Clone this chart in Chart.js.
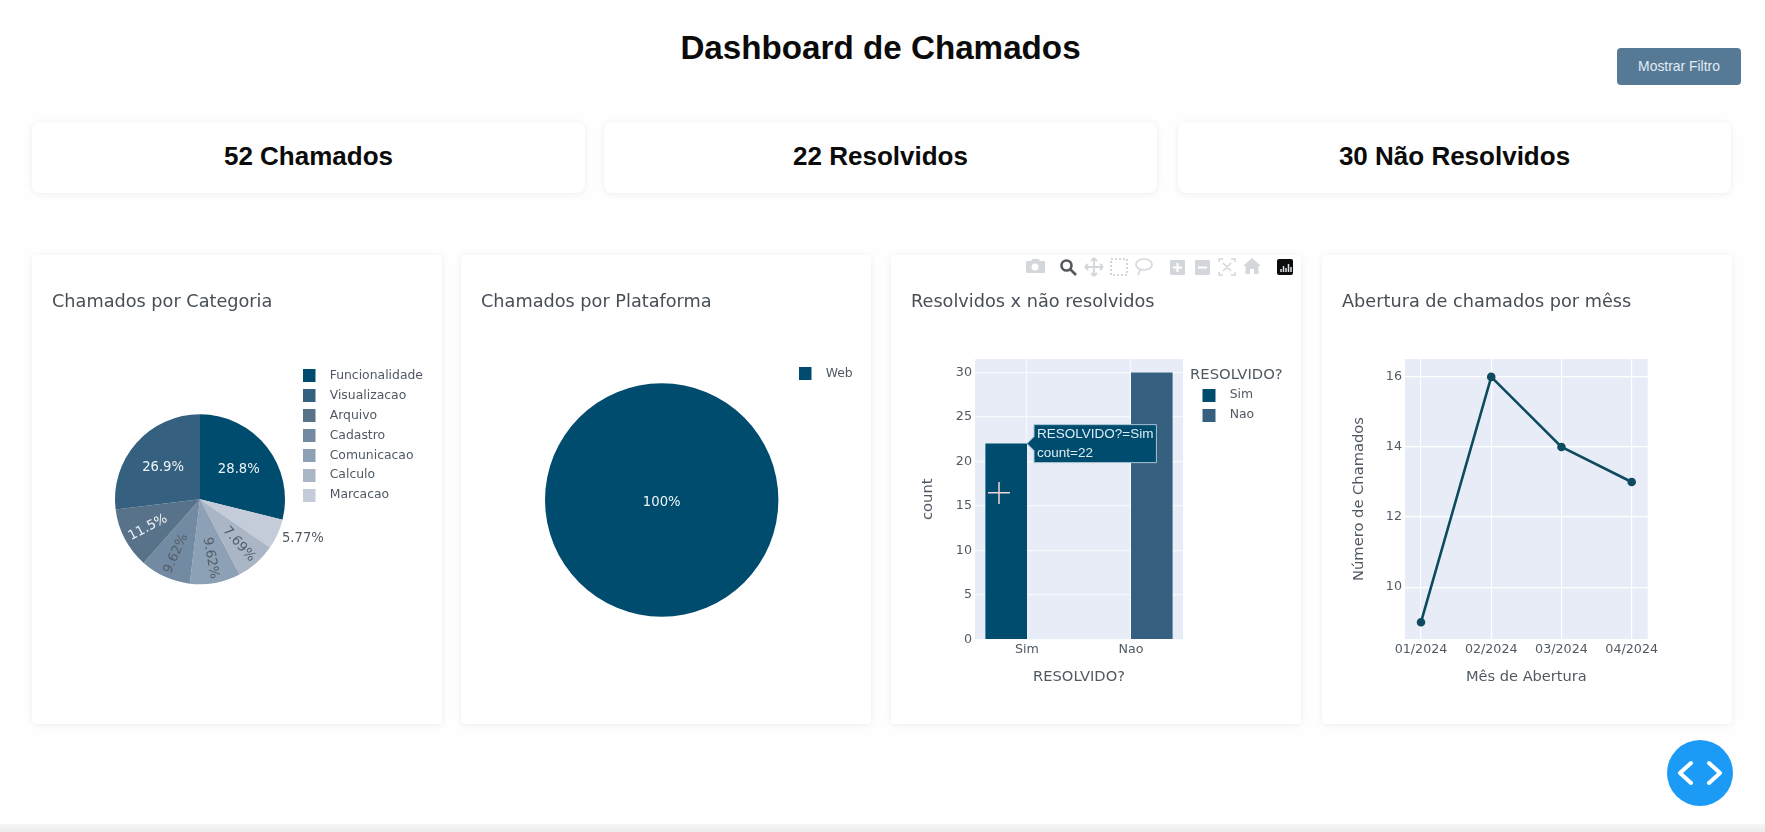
<!DOCTYPE html>
<html lang="pt">
<head>
<meta charset="utf-8">
<title>Dashboard de Chamados</title>
<script src="https://cdn.jsdelivr.net/npm/chart.js@4/dist/chart.umd.js"></script>
<style>
html,body{margin:0;padding:0;width:1765px;height:832px;overflow:hidden;background:#fefefe;font-family:"Liberation Sans",Arial,sans-serif}
h1{position:absolute;left:0;width:1761px;top:27px;margin:0;text-align:center;font-size:33.2px;line-height:42px;font-weight:700;color:#0b0b0b}
.btn{position:absolute;left:1617px;top:48px;width:124px;height:37px;background:#567a96;border-radius:4px;color:#e3ecf3;font-size:13.9px;line-height:37px;text-align:center}
.kpi{position:absolute;top:122px;width:553px;height:71px;background:#fff;border-radius:8px;box-shadow:0 1px 7px rgba(0,0,0,.07);text-align:center;font-size:26px;font-weight:700;line-height:69px;color:#0b0b0b}
.card{position:absolute;top:255px;width:410px;height:469px;background:#fff;border-radius:4px;box-shadow:0 1px 7px rgba(0,0,0,.07)}
.card canvas{position:absolute;left:0;top:0}
.strip{position:absolute;left:0;top:824px;width:1765px;height:8px;background:linear-gradient(#f6f6f6,#ececec)}
.fab{position:absolute;left:1667px;top:740px;width:66px;height:66px;border-radius:50%;background:#1c9bf6}
.over{position:absolute;left:0;top:0;pointer-events:none}
</style>
</head>
<body>
<h1>Dashboard de Chamados</h1>
<div class="btn">Mostrar Filtro</div>
<div class="kpi" style="left:32px">52 Chamados</div>
<div class="kpi" style="left:604px">22 Resolvidos</div>
<div class="kpi" style="left:1178px">30 Não Resolvidos</div>

<div class="card" style="left:32px"><canvas id="c1" width="410" height="469"></canvas></div>
<div class="card" style="left:461px"><canvas id="c2" width="410" height="469"></canvas></div>
<div class="card" style="left:891px"><canvas id="c3" width="410" height="469"></canvas></div>
<div class="card" style="left:1322px"><canvas id="c4" width="410" height="469"></canvas></div>

<svg class="over" width="1765" height="832" xmlns="http://www.w3.org/2000/svg">
  <!-- mode bar -->
  <g fill="#d3d6da" stroke="none">
    <path d="M1027 261h4l1.500-2h6l1.500 2h4a1 1 0 0 1 1 1v10a1 1 0 0 1-1 1h-17a1 1 0 0 1-1-1v-10a1 1 0 0 1 1-1z"/>
    <circle cx="1035" cy="267" r="3.500" fill="#fff"/>
  </g>
  <g fill="none" stroke="#55595e" stroke-width="2.600"><circle cx="1066.500" cy="265.500" r="5"/><path d="M1070 269l6 6"/></g>
  <path d="M1094 258v18M1085 267h18M1094 258l-3 3M1094 258l3 3M1094 276l-3-3M1094 276l3-3M1085 267l3-3M1085 267l3 3M1103 267l-3-3M1103 267l-3 3" fill="none" stroke="#d3d6da" stroke-width="1.800"/>
  <rect x="1111" y="259" width="16" height="16" fill="none" stroke="#d3d6da" stroke-width="2" stroke-dasharray="2 2"/>
  <path d="M1144 259c5 0 8 2.500 8 5.500s-3 5.500-8 5.500c-5 0-8-2.500-8-5.500s3-5.500 8-5.500zM1140 270c-1 2-1 4-2 5" fill="none" stroke="#d3d6da" stroke-width="1.600"/>
  <rect x="1170" y="260" width="15" height="15" rx="1" fill="#d3d6da"/><path d="M1177.500 263v9M1173 267.500h9" stroke="#fff" stroke-width="2"/>
  <rect x="1195" y="260" width="15" height="15" rx="1" fill="#d3d6da"/><path d="M1198 267.500h9" stroke="#fff" stroke-width="2"/>
  <path d="M1219 262v-3h4M1231 259h4v3M1235 272v3h-4M1223 275h-4v-3M1223 263l8 8M1231 263l-8 8" fill="none" stroke="#d3d6da" stroke-width="1.500"/>
  <path d="M1252 258l9 8h-2.500v8h-4.500v-5h-4v5h-4.500v-8h-2.500z" fill="#d3d6da"/>
  <rect x="1277" y="259" width="16" height="16" rx="2" fill="#0d0d0d"/>
  <path d="M1281 272v-3M1283.500 272v-6M1286 272v-4M1288.500 272v-8M1291 272v-5" stroke="#dfe3e8" stroke-width="1.500"/>
  <!-- mouse cursor over the first bar -->
  <path d="M999 482v22M988 492.700h22" stroke="#f0d6d8" stroke-width="1.500"/>
</svg>
<div class="fab"></div>
<svg class="over" width="1765" height="832" xmlns="http://www.w3.org/2000/svg">
  <path d="M1691 763l-11 10 11 10M1709 763l11 10-11 10" fill="none" stroke="#fff" stroke-width="4" stroke-linecap="round" stroke-linejoin="round"/>
</svg>
<div class="strip"></div>

<script>
// ---- data ----
const categoryNames = ['Funcionalidade','Visualizacao','Arquivo','Cadastro','Comunicacao','Calculo','Marcacao'];
const categoryCounts = [15,14,6,5,5,4,3];
const platformNames = ['Web'];
const platformCounts = [52];
const resolvedNames = ['Sim','Nao'];
const resolvedCounts = [22,30];
const monthLabels = ['01/2024','02/2024','03/2024','04/2024'];
const monthCounts = [9,16,14,13];

// ---- styles ----
const PALETTE = ['#004c6e','#36607f','#587389','#728aa2','#8ca0b6','#aab5c5','#c3ccd8'];
const TEXT = '#505963', TITLE = '#474e56';
const DV = '"DejaVu Sans"';
Chart.defaults.animation = false;
Chart.defaults.font.family = DV;
Chart.defaults.color = TEXT;

// legend swatch: a square inside a wider transparent slot
function swatch(color, slot, indent){
  const c = document.createElement('canvas'); c.width = slot; c.height = 13;
  const x = c.getContext('2d'); x.fillStyle = color; x.fillRect(indent,0,13,13);
  return c;
}
// fixed legend placement
const legendPlace = {
  id:'legendPlace',
  beforeLayout(chart,_,o){
    const l = chart.legend;
    if(l && !l.__patched){ const f = l.fit; l.fit = function(){ f.call(this); this.width = o.reserve; }; l.__patched = true; }
  },
  afterLayout(chart,_,o){
    const l = chart.legend; if(!l) return;
    const h = l.height; l.left = o.left; l.right = chart.width; l.top = o.top; l.bottom = o.top + h;
  }
};
const plotBg = {
  id:'plotBg',
  beforeDraw(chart,_,o){
    if(!o.color) return;
    const a = chart.chartArea, c = chart.ctx;
    c.save(); c.fillStyle = o.color; c.fillRect(a.left,a.top,a.width,a.height); c.restore();
  }
};
// percent labels on the slices
const sliceLabels = {
  id:'sliceLabels',
  afterDatasetsDraw(chart,_,o){
    if(!o.on) return;
    const meta = chart.getDatasetMeta(0), data = chart.data.datasets[0].data;
    const total = data.reduce((a,b)=>a+b,0), c = chart.ctx;
    meta.data.forEach((arc,i)=>{
      const p = arc.getProps(['x','y','startAngle','endAngle','outerRadius'],true);
      let mid = (p.startAngle+p.endAngle)/2;
      const pct = data[i]/total*100;
      let rf, rot = 0, col;
      const bg = chart.data.datasets[0].backgroundColor[i];
      const dark = o.lightText.includes(bg);
      if(pct>=100){ rf = .01; col = '#eef5f8'; }
      else if(pct<6){ rf = 1.29; mid -= .07; col = TEXT; }
      else if(pct>=20){ rf = .58; col = '#eef5f8'; }
      else { rf = .69; rot = mid; if(Math.cos(mid)<0) rot += Math.PI; col = dark ? '#eef5f8' : '#555e68'; }
      c.save();
      c.translate(p.x+Math.cos(mid)*p.outerRadius*rf, p.y+Math.sin(mid)*p.outerRadius*rf+1);
      c.rotate(rot);
      c.font = '13.2px '+DV; c.textAlign='center'; c.textBaseline='middle'; c.fillStyle = col;
      c.fillText(pct.toPrecision(3)+'%',0,0);
      c.restore();
    });
  }
};
Chart.register(legendPlace, plotBg, sliceLabels);

const titleOpts = text => ({display:true,text,align:'start',color:TITLE,
  font:{family:DV,size:17.7,weight:'normal',lineHeight:1.2},padding:{top:36.4,bottom:46.4}});

function legendLabels(base, slot, indent, sort){
  return {
    usePointStyle:true, pointStyleWidth:slot, padding:7.5, color:TEXT,
    font:{family:DV,size:12.4},
    sort,
    generateLabels(chart){
      return base(chart).map(it=>{ it.pointStyle = swatch(it.fillStyle,slot,indent); return it; });
    }
  };
}

// ---- pie: categories (legend order differs from the clockwise drawing order) ----
const drawOrder = [0,6,5,4,3,2,1];
const pieBase = Chart.overrides.pie.plugins.legend.labels.generateLabels;
new Chart(document.getElementById('c1'),{
  type:'pie',
  data:{labels:drawOrder.map(i=>categoryNames[i]),
    datasets:[{data:drawOrder.map(i=>categoryCounts[i]),backgroundColor:drawOrder.map(i=>PALETTE[i]),borderWidth:0,radius:85}]},
  options:{responsive:false,events:[],
    layout:{padding:{left:20,right:0,top:0,bottom:84.4}},
    plugins:{title:titleOpts('Chamados por Categoria'),tooltip:{enabled:false},
      legend:{position:'right',align:'start',
        labels:legendLabels(pieBase,21,0,(a,b)=>categoryNames.indexOf(a.text)-categoryNames.indexOf(b.text))},
      legendPlace:{reserve:94,left:263,top:107},
      sliceLabels:{on:true,lightText:[PALETTE[0],PALETTE[1],PALETTE[2]]}
    }}
});

// ---- pie: platform ----
new Chart(document.getElementById('c2'),{
  type:'pie',
  data:{labels:platformNames,datasets:[{data:platformCounts,backgroundColor:[PALETTE[0]],borderWidth:0,radius:116.7}]},
  options:{responsive:false,events:[],
    layout:{padding:{left:20,right:0,top:0,bottom:83}},
    plugins:{title:titleOpts('Chamados por Plataforma'),tooltip:{enabled:false},
      legend:{position:'right',align:'start',labels:legendLabels(pieBase,21,0)},
      legendPlace:{reserve:28.6,left:330,top:105},
      sliceLabels:{on:true,lightText:[PALETTE[0]]}
    }}
});

// ---- bars ----
Chart.Tooltip.positioners.barEdge = function(items){
  if(!items.length) return false;
  const el = items[0].element;
  return {x:el.x+el.width/2,y:el.y};
};
const barBase = Chart.defaults.plugins.legend.labels.generateLabels;
const barChart = new Chart(document.getElementById('c3'),{
  type:'bar',
  data:{labels:resolvedNames,
    datasets:resolvedNames.map((n,i)=>({label:n,
      data:resolvedCounts.map((v,j)=>j===i?v:null),
      backgroundColor:PALETTE[i],hoverBackgroundColor:PALETTE[i],
      categoryPercentage:.8,barPercentage:1}))},
  options:{responsive:false,events:[],
    layout:{padding:{left:20,right:0,top:0,bottom:0}},
    scales:{
      x:{offset:true,afterFit:s=>{s.height=84.5;},
        grid:{offset:false,color:'rgba(255,255,255,.7)',lineWidth:1.2,drawTicks:false},border:{display:false},
        ticks:{padding:3,color:TEXT,font:{family:DV,size:12.7}},
        title:{display:true,text:'RESOLVIDO?',color:TEXT,font:{family:DV,size:14.7},padding:{top:0,bottom:38.5}}},
      y:{min:0,max:31.5,afterFit:s=>{s.width=64;},
        border:{display:false},
        grid:{color:'rgba(255,255,255,.7)',lineWidth:1.2,drawTicks:false},
        ticks:{stepSize:5,includeBounds:false,padding:3,color:TEXT,font:{family:DV,size:12.7}},
        title:{display:true,text:'count',color:TEXT,font:{family:DV,size:14.7},padding:{top:8,bottom:0}}}
    },
    plugins:{title:titleOpts('Resolvidos x não resolvidos'),
      plotBg:{color:'#e7ecf6'},
      legend:{position:'right',align:'start',
        title:{display:true,text:'RESOLVIDO?',position:'start',color:TEXT,font:{family:DV,size:14.8},padding:{top:8.7,bottom:-4}},
        labels:legendLabels(barBase,26,5)},
      legendPlace:{reserve:118,left:299,top:104},
      tooltip:{enabled:true,position:'barEdge',xAlign:'left',yAlign:'center',displayColors:false,
        backgroundColor:'#004c6e',borderColor:'#a9c4d3',borderWidth:1,cornerRadius:0,
        caretSize:7,caretPadding:0,padding:{x:3,y:.5},
        bodyColor:'#dcebf2',bodyFont:{family:'"Liberation Sans"',size:13.5,lineHeight:1.37},bodySpacing:0,
        callbacks:{title:()=>[],label:it=>['RESOLVIDO?='+it.label,'count='+it.formattedValue]}}
    }}
});
barChart.tooltip.setActiveElements([{datasetIndex:0,index:0}],{x:0,y:0});
barChart.render();

// ---- line ----
new Chart(document.getElementById('c4'),{
  type:'line',
  data:{datasets:[{data:monthCounts.map((v,i)=>({x:i,y:v})),borderColor:'#0e4a60',backgroundColor:'#0e4a60',
    borderWidth:2.6,pointRadius:3,tension:0}]},
  options:{responsive:false,events:[],
    layout:{padding:{left:20,right:84.3,top:0,bottom:0}},
    scales:{
      x:{type:'linear',min:-0.228,max:3.228,afterFit:s=>{s.height=85;},
        border:{display:false},grid:{color:'#fff',lineWidth:1.2,drawTicks:false},
        ticks:{stepSize:1,includeBounds:false,padding:3,autoSkip:false,maxRotation:0,color:TEXT,font:{family:DV,size:12.7},callback:v=>monthLabels[v]},
        title:{display:true,text:'Mês de Abertura',color:TEXT,font:{family:DV,size:14.6},padding:{top:0,bottom:38.5}}},
      y:{min:8.52,max:16.51,afterFit:s=>{s.width=63;},
        border:{display:false},grid:{color:'#fff',lineWidth:1.2,drawTicks:false},
        ticks:{stepSize:2,includeBounds:false,padding:3,color:TEXT,font:{family:DV,size:12.7}},
        title:{display:true,text:'Número de Chamados',color:TEXT,font:{family:DV,size:14.7},padding:{top:8,bottom:0}}}
    },
    plugins:{title:titleOpts('Abertura de chamados por mêss'),legend:{display:false},tooltip:{enabled:false},plotBg:{color:'#e7ecf6'}}
  }
});
</script>
</body>
</html>
